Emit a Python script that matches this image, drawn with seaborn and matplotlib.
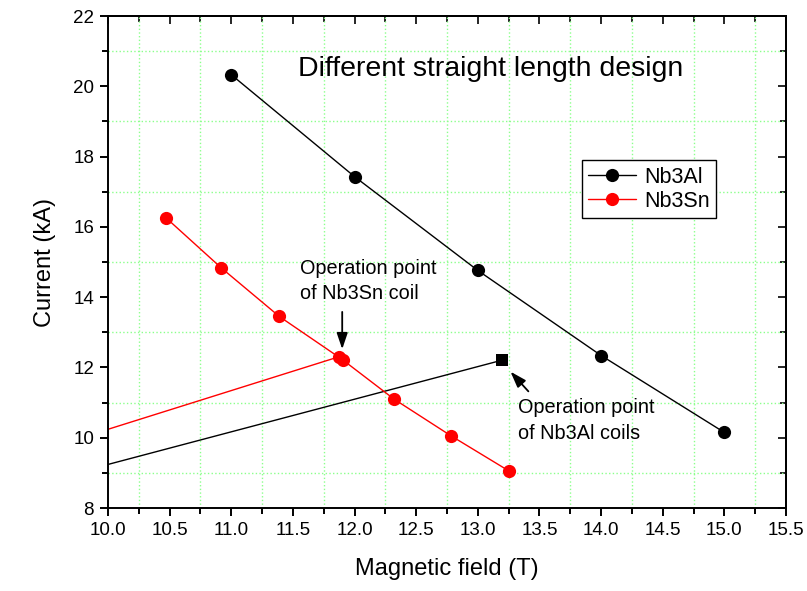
import numpy as np
import matplotlib
matplotlib.use("Agg")
import matplotlib.pyplot as plt
from matplotlib.ticker import MultipleLocator
import seaborn as sns

# data
nb3al_field = [11.0, 12.0, 13.0, 14.0, 15.0]
nb3al_current = [20.33, 17.43, 14.76, 12.34, 10.15]

nb3sn_field = [10.47, 10.92, 11.39, 11.87, 11.91, 12.32, 12.78, 13.25]
nb3sn_current = [16.26, 14.83, 13.45, 12.30, 12.20, 11.10, 10.06, 9.06]

# load lines towards the operation points
sn_load_field = [10.0, 11.87]
sn_load_current = [10.24, 12.30]
al_load_field = [10.0, 13.2]
al_load_current = [9.24, 12.21]
al_op_field = [13.2]
al_op_current = [12.21]

sns.set_style("ticks")
plt.rcParams['font.family'] = ['Liberation Sans', 'DejaVu Sans']
plt.rcParams['text.color'] = 'black'
plt.rcParams['axes.labelcolor'] = 'black'

fig = plt.figure(figsize=(8.07, 5.91), dpi=100)
ax = fig.add_axes([0.1338, 0.1404, 0.8402, 0.8325])

# grid on minor positions, light green dotted
ax.grid(which='minor', color='#8cff8c', linestyle=':', linewidth=1.0)
ax.grid(which='major', visible=False)
ax.set_axisbelow(True)

sns.lineplot(x=sn_load_field, y=sn_load_current, color='red', linewidth=1.0,
             estimator=None, sort=False, ax=ax)
sns.lineplot(x=al_load_field, y=al_load_current, color='black', linewidth=1.0,
             estimator=None, sort=False, ax=ax)
sns.lineplot(x=nb3al_field, y=nb3al_current, color='black', linewidth=1.0,
             marker='o', markersize=9.5, markeredgewidth=0,
             estimator=None, sort=False, label='Nb3Al', ax=ax)
sns.lineplot(x=nb3sn_field, y=nb3sn_current, color='red', linewidth=1.0,
             marker='o', markersize=9.5, markeredgewidth=0,
             estimator=None, sort=False, label='Nb3Sn', ax=ax)
sns.scatterplot(x=al_op_field, y=al_op_current, color='black', marker='s',
                s=75, linewidth=0, ax=ax)

ax.set_xlim(10, 15.5)
ax.set_ylim(8, 22)
ax.xaxis.set_major_locator(MultipleLocator(0.5))
ax.xaxis.set_minor_locator(MultipleLocator(0.25))
ax.yaxis.set_major_locator(MultipleLocator(2))
ax.yaxis.set_minor_locator(MultipleLocator(1))
ax.xaxis.set_major_formatter(matplotlib.ticker.FormatStrFormatter('%.1f'))

for s in ax.spines.values():
    s.set_visible(True)
    s.set_color('black')
    s.set_linewidth(1.4)

ax.tick_params(which='major', direction='out', length=6, width=1.4,
               labelsize=13.5, colors='black', pad=4)
ax.tick_params(which='minor', direction='out', length=4, width=1.4,
               colors='black')

# inward ticks on top and right
top = ax.secondary_xaxis('top')
top.xaxis.set_major_locator(MultipleLocator(0.5))
top.xaxis.set_minor_locator(MultipleLocator(0.25))
top.tick_params(which='major', direction='in', length=6, width=1.4, labeltop=False)
top.tick_params(which='minor', direction='in', length=4, width=1.4)
right = ax.secondary_yaxis('right')
right.yaxis.set_major_locator(MultipleLocator(2))
right.yaxis.set_minor_locator(MultipleLocator(1))
right.tick_params(which='major', direction='in', length=6, width=1.4, labelright=False)
right.tick_params(which='minor', direction='in', length=4, width=1.4)
for sec in (top, right):
    for s in sec.spines.values():
        s.set_linewidth(1.4)
        s.set_color('black')

ax.set_xlabel('Magnetic field (T)', fontsize=17, labelpad=14)
ax.set_ylabel('Current (kA)', fontsize=17, labelpad=12)

ax.text(11.54, 20.29, 'Different straight length design', fontsize=20.5,
        va='baseline', ha='left')

arrow = dict(arrowstyle='-|>,head_length=0.65,head_width=0.22', color='black',
             lw=1.3, mutation_scale=15, shrinkA=0, shrinkB=0)
ax.annotate('', xy=(11.90, 12.52), xytext=(11.90, 13.58), arrowprops=arrow)
ax.text(11.56, 15.1, 'Operation point\nof Nb3Sn coil', fontsize=14.3,
        va='top', ha='left', linespacing=1.45)

ax.annotate('', xy=(13.265, 11.88), xytext=(13.41, 11.32), arrowprops=arrow)
ax.text(13.325, 11.12, 'Operation point\nof Nb3Al coils', fontsize=14.3,
        va='top', ha='left', linespacing=1.45)

leg = ax.legend(loc='upper left', bbox_to_anchor=(0.699, 0.707),
                borderaxespad=0, fancybox=False, edgecolor='black',
                framealpha=1, fontsize=15.5, handlelength=2.2,
                handletextpad=0.4, borderpad=0.3, labelspacing=0.15)
leg.get_frame().set_linewidth(1.0)
for t in leg.get_texts():
    t.set_color('black')

fig.savefig('out.png', dpi=100)
